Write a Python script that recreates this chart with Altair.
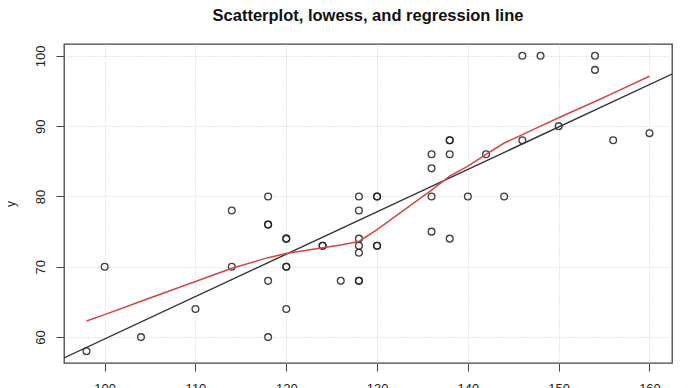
import altair as alt
import pandas as pd

# scatter data
x_vals = [98, 100, 104, 110, 114, 114, 118, 118, 118, 118, 118, 120, 120, 120, 120, 120,
          124, 124, 126, 128, 128, 128, 128, 128, 128, 128, 130, 130, 130, 130,
          136, 136, 136, 136, 138, 138, 138, 138, 140, 142, 144, 146, 146, 148, 150,
          154, 154, 156, 160]
y_vals = [58, 70, 60, 64, 78, 70, 80, 76, 76, 68, 60, 74, 74, 70, 70, 64,
          73, 73, 68, 80, 78, 74, 73, 72, 68, 68, 80, 80, 73, 73,
          86, 84, 80, 75, 88, 88, 86, 74, 80, 86, 80, 100, 88, 100, 90,
          100, 98, 88, 89]

# lowess curve vertices
lowess_x = [98, 100, 104, 110, 114, 118, 120, 124, 126, 128, 130, 136, 138, 140,
            142, 144, 146, 148, 150, 154, 156, 160]
lowess_y = [62.3, 63.2, 65.1, 67.9, 69.8, 71.3, 71.9, 72.7, 73.1, 73.6, 75.3, 80.9,
            82.9, 84.3, 86.0, 87.6, 88.8, 90.0, 91.2, 93.5, 94.7, 97.1]

x_ticks = [100, 110, 120, 130, 140, 150, 160]
y_ticks = [60, 70, 80, 90, 100]

x_domain = [95.52, 162.48]
y_domain = [56.32, 101.68]

pts = pd.DataFrame({"x": x_vals, "y": y_vals})
low = pd.DataFrame({"x": lowess_x, "y": lowess_y})

FONT = "Liberation Sans"

xscale = alt.Scale(domain=x_domain, nice=False, zero=False)
yscale = alt.Scale(domain=y_domain, nice=False, zero=False)

xaxis = alt.Axis(values=x_ticks, title="", grid=True, domain=False,
                 tickSize=8, labelPadding=21, labelAngle=0,
                 labelBaseline="alphabetic", labelAlign="center")
yaxis = alt.Axis(values=y_ticks, title="y", grid=True, domain=False,
                 tickSize=8, labelPadding=11.7, labelAngle=270,
                 labelAlign="center", labelBaseline="alphabetic",
                 titleAngle=270, titleX=-50, titleY=159.5,
                 titleBaseline="alphabetic", titleAlign="center",
                 titleFontWeight="normal", titleFontSize=12, titleColor="#222",
                 titleFont=FONT)

base_x = alt.X("x:Q", scale=xscale, axis=xaxis)
base_y = alt.Y("y:Q", scale=yscale, axis=yaxis)

points = alt.Chart(pts).mark_point(
    shape="circle", filled=False, size=46, stroke="#222", strokeWidth=1.3,
    opacity=0.85
).encode(x=base_x, y=base_y)

reg = alt.Chart(pts).transform_regression(
    "x", "y", extent=x_domain
).mark_line(color="#333", strokeWidth=1.4, clip=True).encode(
    x=alt.X("x:Q", scale=xscale), y=alt.Y("y:Q", scale=yscale)
)

lowess = alt.Chart(low).mark_line(color="#d64545", strokeWidth=1.5, clip=True).encode(
    x=alt.X("x:Q", scale=xscale), y=alt.Y("y:Q", scale=yscale)
)

chart = alt.layer(points, reg, lowess).properties(
    width=608, height=319,
    title=alt.TitleParams("Scatterplot, lowess, and regression line", font=FONT,
                          fontSize=16.5, fontWeight="bold", color="#111",
                          anchor="middle", offset=20),
    autosize=alt.AutoSizeParams(type="none"),
    padding={"left": 56, "top": 36, "right": 10, "bottom": 25},
).configure_view(
    stroke="#444", strokeWidth=1.3
).configure_axis(
    gridColor="#cfcfcf", gridDash=[1, 2], gridWidth=1,
    tickColor="#444", tickWidth=1,
    labelFont=FONT, labelFontSize=13, labelColor="#222"
)

chart.save("out.html", embed_options={"renderer": "svg", "actions": False})
